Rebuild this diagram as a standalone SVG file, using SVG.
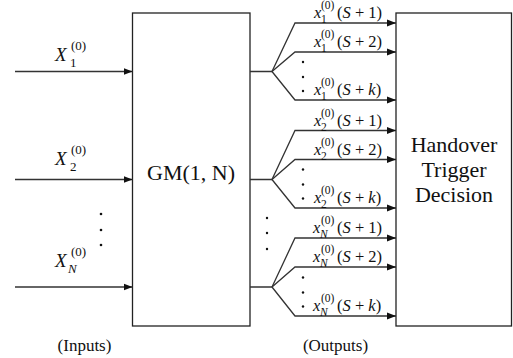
<svg xmlns="http://www.w3.org/2000/svg" width="513" height="358" viewBox="0 0 513 358">
<style>
.box{fill:#fff;stroke:#222;stroke-width:1.3}
.ln{fill:none;stroke:#333;stroke-width:1.3}
text{font-family:'Liberation Serif','Times New Roman','DejaVu Serif',serif;fill:#111}
.big{font-size:22px}
.lbl{font-size:17px}
.m{font-size:16.5px}
.X{font-size:19px}
.i{font-style:italic}
.s{font-size:11.5px}
.si{font-size:13px}
.dot{fill:#111}
</style>
<defs>
<marker id="ah" markerUnits="userSpaceOnUse" markerWidth="10" markerHeight="8" refX="9" refY="4" orient="auto">
<path d="M0,0.5 L9,4 L0,7.5 Z" fill="#111"/>
</marker>
</defs>
<g id="gm">
<rect class="box" x="132.5" y="13" width="117.5" height="313"/>
<text class="big" x="191" y="180" text-anchor="middle">GM(1, N)</text>
</g>
<g id="handover">
<rect class="box" x="396" y="13" width="115.5" height="313"/>
<text class="big" x="454" y="152" text-anchor="middle">Handover</text>
<text class="big" x="454" y="177" text-anchor="middle">Trigger</text>
<text class="big" x="454" y="202" text-anchor="middle">Decision</text>
</g>
<g id="connectors">
<path class="ln" d="M15,71.5 H132.5" marker-end="url(#ah)"/>
<path class="ln" d="M15,179.5 H132.5" marker-end="url(#ah)"/>
<path class="ln" d="M15,287 H132.5" marker-end="url(#ah)"/>
<path class="ln" d="M250,71.5 H272 M250,179.5 H272 M250,287 H272"/>
<path class="ln" d="M272,71.5 L295,23 H396" marker-end="url(#ah)"/>
<path class="ln" d="M272,71.5 L295,52 H396" marker-end="url(#ah)"/>
<path class="ln" d="M272,71.5 L295,100 H396" marker-end="url(#ah)"/>
<path class="ln" d="M272,179.5 L295,130.5 H396" marker-end="url(#ah)"/>
<path class="ln" d="M272,179.5 L295,159.5 H396" marker-end="url(#ah)"/>
<path class="ln" d="M272,179.5 L295,208 H396" marker-end="url(#ah)"/>
<path class="ln" d="M272,287 L295,238 H396" marker-end="url(#ah)"/>
<path class="ln" d="M272,287 L295,267 H396" marker-end="url(#ah)"/>
<path class="ln" d="M272,287 L295,316 H396" marker-end="url(#ah)"/>
</g>
<g id="input-labels">
<text class="X"><tspan class="i" x="55" y="61">X</tspan><tspan class="si" x="70" y="67">1</tspan><tspan class="si" x="71" y="50">(0)</tspan></text>
<text class="X"><tspan class="i" x="55" y="165">X</tspan><tspan class="si" x="70" y="171">2</tspan><tspan class="si" x="71" y="154">(0)</tspan></text>
<text class="X"><tspan class="i" x="55" y="267">X</tspan><tspan class="si i" x="68" y="273">N</tspan><tspan class="si" x="71" y="256">(0)</tspan></text>
<circle class="dot" cx="101" cy="214" r="1.3"/>
<circle class="dot" cx="101" cy="230" r="1.3"/>
<circle class="dot" cx="101" cy="245" r="1.3"/>
</g>
<g id="output-labels">
<text class="m"><tspan class="i" x="314" y="18">x</tspan><tspan class="s" x="321" y="23">1</tspan><tspan class="s" x="321" y="9">(0)</tspan><tspan x="337" y="18">(<tspan class="i">S</tspan> + 1)</tspan></text>
<text class="m"><tspan class="i" x="314" y="47">x</tspan><tspan class="s" x="321" y="52">1</tspan><tspan class="s" x="321" y="38">(0)</tspan><tspan x="337" y="47">(<tspan class="i">S</tspan> + 2)</tspan></text>
<text class="m"><tspan class="i" x="314" y="95">x</tspan><tspan class="s" x="321" y="100">1</tspan><tspan class="s" x="321" y="86">(0)</tspan><tspan x="337" y="95">(<tspan class="i">S</tspan> + <tspan class="i">k</tspan>)</tspan></text>
<circle class="dot" cx="303" cy="62" r="1.2"/>
<circle class="dot" cx="303" cy="77" r="1.2"/>
<circle class="dot" cx="303" cy="91" r="1.2"/>
<text class="m"><tspan class="i" x="314" y="125.5">x</tspan><tspan class="s" x="321" y="130.5">2</tspan><tspan class="s" x="321" y="116.5">(0)</tspan><tspan x="337" y="125.5">(<tspan class="i">S</tspan> + 1)</tspan></text>
<text class="m"><tspan class="i" x="314" y="154.5">x</tspan><tspan class="s" x="321" y="159.5">2</tspan><tspan class="s" x="321" y="145.5">(0)</tspan><tspan x="337" y="154.5">(<tspan class="i">S</tspan> + 2)</tspan></text>
<text class="m"><tspan class="i" x="314" y="203">x</tspan><tspan class="s" x="321" y="208">2</tspan><tspan class="s" x="321" y="194">(0)</tspan><tspan x="337" y="203">(<tspan class="i">S</tspan> + <tspan class="i">k</tspan>)</tspan></text>
<circle class="dot" cx="303" cy="169.5" r="1.2"/>
<circle class="dot" cx="303" cy="184.5" r="1.2"/>
<circle class="dot" cx="303" cy="198.5" r="1.2"/>
<circle class="dot" cx="267" cy="218" r="1.2"/>
<circle class="dot" cx="267" cy="233" r="1.2"/>
<circle class="dot" cx="267" cy="249" r="1.2"/>
<text class="m"><tspan class="i" x="313" y="233">x</tspan><tspan class="s i" x="320" y="238">N</tspan><tspan class="s" x="321" y="224">(0)</tspan><tspan x="337" y="233">(<tspan class="i">S</tspan> + 1)</tspan></text>
<text class="m"><tspan class="i" x="313" y="262">x</tspan><tspan class="s i" x="320" y="267">N</tspan><tspan class="s" x="321" y="253">(0)</tspan><tspan x="337" y="262">(<tspan class="i">S</tspan> + 2)</tspan></text>
<text class="m"><tspan class="i" x="313" y="311">x</tspan><tspan class="s i" x="320" y="316">N</tspan><tspan class="s" x="321" y="302">(0)</tspan><tspan x="337" y="311">(<tspan class="i">S</tspan> + <tspan class="i">k</tspan>)</tspan></text>
<circle class="dot" cx="303" cy="277.5" r="1.2"/>
<circle class="dot" cx="303" cy="292.5" r="1.2"/>
<circle class="dot" cx="303" cy="306.5" r="1.2"/>
</g>
<g id="captions">
<text class="lbl" x="84.5" y="351" text-anchor="middle">(Inputs)</text>
<text class="lbl" x="335.5" y="351" text-anchor="middle">(Outputs)</text>
</g>
</svg>
